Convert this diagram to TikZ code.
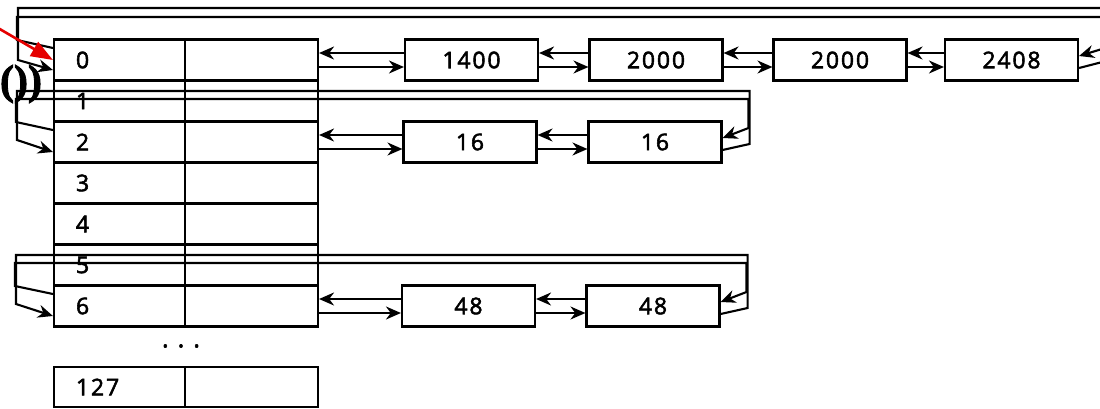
\documentclass[tikz,border=0pt]{standalone}
\usepackage{fontspec}
\usetikzlibrary{arrows.meta}
\newfontfamily\numfont[LetterSpace=8, FakeBold=2.4]{Open Sans}
\newfontfamily\markfont[FakeBold=2]{Liberation Serif}

\tikzset{
  cellbox/.style={draw, line width=2.1pt, minimum height=41pt, inner sep=0pt},
  idx/.style={cellbox, minimum width=131pt, text width=87pt, inner xsep=22pt, align=left,
    font=\numfont\fontsize{23}{26}\selectfont},
  slot/.style={cellbox, minimum width=133pt},
  heapbox/.style={cellbox, minimum width=133pt, font=\numfont\fontsize{23}{26}\selectfont},
  ptr/.style={-{Stealth[length=15pt,width=13pt]}, line width=2.1pt},
  redptr/.style={-{Triangle[length=22pt,width=16pt]}, line width=2.6pt, red!90!black}
}

\begin{document}
\begin{tikzpicture}[x=1pt,y=-1pt]
  \useasboundingbox (0,0) rectangle (1100,408);
  \clip (0,0) rectangle (1100,408);
  % table of free lists
  \foreach \i in {0,...,6} {
    \node[idx] (c\i) at (119.5,60+41*\i) {\i};
    \node[slot] (p\i) at (251.5,60+41*\i) {};
  }
  \node[font=\numfont\fontsize{25}{26}\selectfont] (dots) at (181,346) {.\hspace{9pt}.\hspace{9pt}.};
  \node[idx, minimum height=40pt] (c127) at (119.5,387) {127};
  \node[slot, minimum height=40pt] (p127) at (251.5,387) {};
  % list blocks
  \node[heapbox] (n1400) at (471.5,60) {1400};
  \node[heapbox] (n2000a) at (656,60) {2000};
  \node[heapbox] (n2000b) at (840,60) {2000};
  \node[heapbox] (n2408) at (1011.5,60) {2408};
  \node[heapbox] (s16a) at (470,142) {16};
  \node[heapbox] (s16b) at (655,142) {16};
  \node[heapbox] (s48a) at (468.5,306) {48};
  \node[heapbox] (s48b) at (653,306) {48};
  % forward and back links
  \foreach \a/\b in {p0/n1400, n1400/n2000a, n2000a/n2000b, n2000b/n2408,
                     p2/s16a, s16a/s16b, p6/s48a, s48a/s48b} {
    \draw[ptr] ([yshift=7pt]\b.west) -- ([yshift=7pt]\a.east);
    \draw[ptr] ([yshift=-7pt]\a.east) -- ([yshift=-7pt]\b.west);
  }
  % wrap-around links
  \coordinate (o0l) at (18,8);
  \coordinate (i0r) at (1108.5,17);
  \coordinate (o2l) at (17,91);
  \coordinate (i2r) at (748.5,99);
  \coordinate (o6l) at (16,255);
  \coordinate (i6r) at (746.5,263);
  \draw[ptr] ([yshift=-8pt]n2408.east) -- ++(31,-8) |- (o0l) -- ++(0,52) -- ([yshift=-10pt]c0.west);
  \draw[ptr] ([yshift=12pt]c0.west) -- ++(-36,-8) |- (i0r) -- ++(0,30) -- ([yshift=4pt]n2408.east);
  \draw[ptr] ([yshift=-8pt]s16b.east) -- ++(27,-6) |- (o2l) -- ++(0,49) -- ([yshift=-10pt]c2.west);
  \draw[ptr] ([yshift=12pt]c2.west) -- ++(-37,-8) |- (i2r) -- ++(0,29) -- ([yshift=4pt]s16b.east);
  \draw[ptr] ([yshift=-8pt]s48b.east) -- ++(27,-6) |- (o6l) -- ++(0,49) -- ([yshift=-10pt]c6.west);
  \draw[ptr] ([yshift=12pt]c6.west) -- ++(-38,-8) |- (i6r) -- ++(0,29) -- ([yshift=4pt]s48b.east);
  % marks
  \coordinate (redtail) at (-2,28);
  \draw[redptr] (redtail) -- (c0.west);
  \node[font=\markfont\bfseries\fontsize{42}{44}\selectfont, inner sep=0pt] (paren) at (21,84) {())};
\end{tikzpicture}
\end{document}
